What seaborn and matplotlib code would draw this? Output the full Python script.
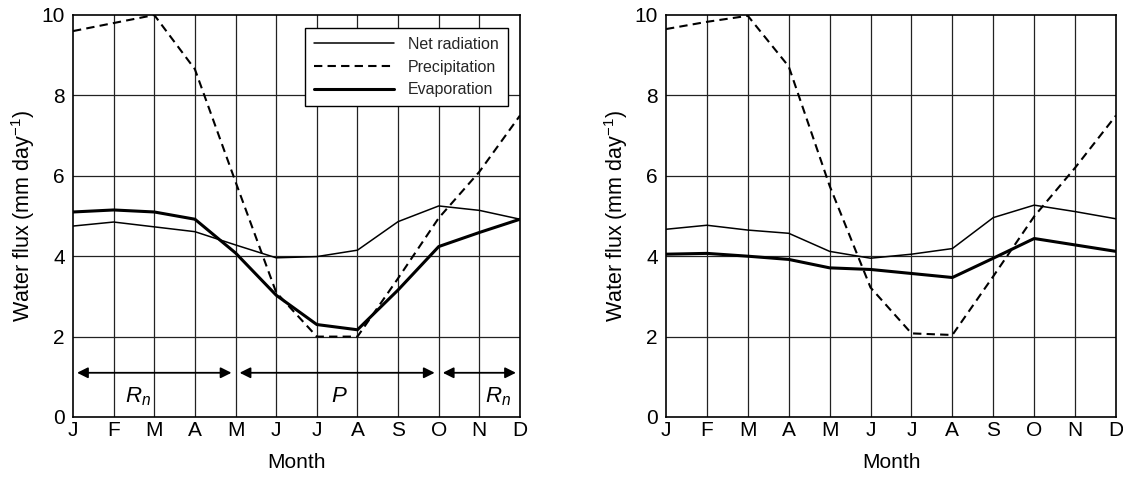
import numpy as np
import pandas as pd
import matplotlib
matplotlib.use("Agg")
import matplotlib.pyplot as plt
import seaborn as sns
from matplotlib.lines import Line2D

months = ["J", "F", "M", "A", "M", "J", "J", "A", "S", "O", "N", "D"]

# Left panel
left_net_radiation = [4.75, 4.85, 4.73, 4.61, 4.28, 3.96, 3.99, 4.15, 4.86, 5.25, 5.14, 4.92]
left_precipitation = [9.6, 9.8, 10.0, 8.65, 5.85, 3.1, 2.0, 2.0, 3.45, 4.95, 6.1, 7.5]
left_evaporation = [5.1, 5.15, 5.1, 4.92, 4.08, 3.03, 2.3, 2.17, 3.16, 4.24, 4.59, 4.92]

# Right panel
right_net_radiation = [4.67, 4.77, 4.65, 4.57, 4.12, 3.95, 4.05, 4.19, 4.96, 5.27, 5.11, 4.93]
right_precipitation = [9.65, 9.83, 9.98, 8.72, 5.75, 3.22, 2.08, 2.04, 3.5, 4.99, 6.2, 7.5]
right_evaporation = [4.05, 4.07, 4.0, 3.92, 3.71, 3.67, 3.57, 3.47, 3.95, 4.44, 4.28, 4.12]

series_names = ["Net radiation", "Precipitation", "Evaporation"]
regime_labels = ["$R_n$", "$P$", "$R_n$"]

sns.set_theme(style="white")
plt.rcParams['font.family'] = ['Liberation Sans', 'DejaVu Sans']
plt.rcParams['mathtext.fontset'] = 'custom'
plt.rcParams['mathtext.it'] = 'Liberation Sans:italic'
plt.rcParams['mathtext.rm'] = 'Liberation Sans'

fig = plt.figure(figsize=(11.23, 4.82), dpi=100)
ax1 = fig.add_axes([73/1123, 65/482, 447/1123, 402/482])
ax2 = fig.add_axes([666/1123, 65/482, 450/1123, 402/482])

styles = {
    "Net radiation": dict(lw=1.1, ls="-"),
    "Precipitation": dict(lw=1.5, ls=(0, (4, 2.5))),
    "Evaporation": dict(lw=2.2, ls="-"),
}

def draw(ax, net, pre, eva):
    x = np.arange(len(months))
    df = pd.DataFrame({"x": np.tile(x, 3),
                       "val": net + pre + eva,
                       "series": np.repeat(series_names, len(months))})
    for name in series_names:
        sub = df[df.series == name]
        sns.lineplot(data=sub, x="x", y="val", ax=ax, color="black",
                     linewidth=styles[name]["lw"], linestyle=styles[name]["ls"],
                     legend=False, zorder=3)
    ax.set_xlim(0, 11)
    ax.set_ylim(0, 10)
    ax.set_xticks(x)
    ax.set_xticklabels(months)
    ax.set_yticks([0, 2, 4, 6, 8, 10])
    for xi in x[1:-1]:
        ax.axvline(xi, color="#222222", lw=0.9, zorder=1)
    for yi in [2, 4, 6, 8]:
        ax.axhline(yi, color="#222222", lw=0.9, zorder=1)
    for s in ax.spines.values():
        s.set_color("black")
        s.set_linewidth(1.2)
    ax.tick_params(axis="both", length=0, labelsize=15, colors="black")
    ax.tick_params(axis="x", pad=3)
    ax.tick_params(axis="y", pad=6)
    ax.set_xlabel("Month", fontsize=15, color="black", labelpad=9)
    ax.set_ylabel("Water flux (mm day$^{-1}$)", fontsize=15.5, color="black", labelpad=3)

draw(ax1, left_net_radiation, left_precipitation, left_evaporation)
draw(ax2, right_net_radiation, right_precipitation, right_evaporation)

# Regime arrows on left panel
arrow_spans = [(0.1, 3.9), (4.1, 8.9), (9.1, 10.9)]
label_pos = [1.6, 6.55, 10.45]
for (a, b), lab, lx in zip(arrow_spans, regime_labels, label_pos):
    ax1.annotate("", xy=(b, 1.1), xytext=(a, 1.1),
                 arrowprops=dict(arrowstyle="<|-|>", color="black", lw=1.3,
                                 mutation_scale=16, shrinkA=0, shrinkB=0), zorder=4)
    ax1.text(lx, 0.5, lab, fontsize=16, ha="center", va="center", color="black")

handles = [Line2D([0], [0], color="black", lw=styles[n]["lw"], ls=styles[n]["ls"]) for n in series_names]
leg = ax1.legend(handles, series_names, loc="upper right", bbox_to_anchor=(0.99, 0.987),
                 fontsize=11.5, frameon=True, fancybox=False, framealpha=1,
                 edgecolor="black", handlelength=5.0, borderpad=0.55, labelspacing=0.48,
                 handletextpad=0.9)
leg.get_frame().set_linewidth(1.0)
leg.set_zorder(5)

fig.savefig("out.png", dpi=100, facecolor="white")
